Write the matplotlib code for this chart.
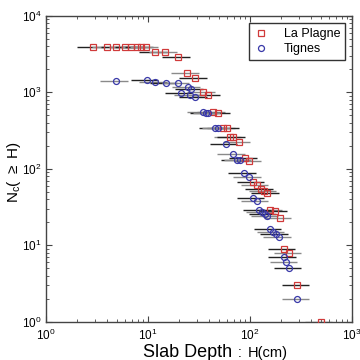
import matplotlib
matplotlib.use('Agg')
import matplotlib.pyplot as plt
import numpy as np

plt.rcParams['font.family'] = ['Liberation Sans', 'DejaVu Sans']
plt.rcParams['mathtext.default'] = 'regular'

# La Plagne: slab depth H (cm), cumulative count N_c(>=H)
plagne_h = [2.9, 4.0, 4.9, 5.9, 6.8, 7.8, 8.5, 9.6, 11.7, 14.7, 19.7, 24.1, 28.9,
            34.6, 38.7, 43.4, 48.6, 54.4, 59.3, 62.9, 68.0, 77.5, 89.3, 98.4,
            105.8, 116.3, 128.2, 138.0, 146.8, 157.0, 175.8, 194.6, 212.9,
            242.7, 291.0, 491.0]
plagne_n = [3950, 3950, 3950, 3950, 3950, 3950, 3950, 3950, 3400, 3400, 2900,
            1800, 1550, 1020, 930, 560, 540, 345, 345, 262, 262, 227, 138, 128,
            66.6, 61.8, 54.8, 51.6, 48.1, 29.1, 27.7, 22.7, 9, 8, 3, 1]

# Tignes
tignes_h = [4.86, 9.7, 11.7, 14.9, 19.5, 20.8, 24.7, 26.4, 25.5, 28.9, 34.4,
            36.6, 39.0, 44.8, 48.6, 57.8, 68.1, 73.8, 78.9, 87.3, 97.8, 106.3,
            116.3, 122.5, 129.6, 138.7, 145.1, 156.1, 166.2, 179.2, 193.3,
            215.4, 223.9, 242.8, 290.9]
tignes_n = [1427, 1435, 1385, 1343, 1343, 977, 1169, 1094, 928, 881, 561, 535,
            535, 341, 341, 210, 155, 131, 129, 87.4, 79.3, 41.4, 38.5, 28.8, 27,
            25.4, 24.1, 16.3, 15.1, 14.0, 13.0, 7, 6, 5, 2]

rel_err = 0.3

fig = plt.figure(figsize=(3.6, 3.6), dpi=100)
ax = fig.add_axes([0.128, 0.106, 0.85, 0.85])

for h, n, off in [(plagne_h, plagne_n, 0), (tignes_h, tignes_n, 1)]:
    h = np.array(h)
    eb = ax.errorbar(h, n, xerr=rel_err * h, fmt='none', ecolor='k',
                     elinewidth=1.0, capsize=0, zorder=2)
    cols = ['#222222' if (i + off) % 2 == 0 else '#8a8a8a' for i in range(len(h))]
    eb[2][0].set_colors(cols)

ax.plot(plagne_h, plagne_n, 's', ms=4.3, mfc='none', mec='#d03a3a', mew=0.9,
        label='La Plagne', zorder=3)
ax.plot(tignes_h, tignes_n, 'o', ms=4.3, mfc='none', mec='#3838a8', mew=0.9,
        label='Tignes', zorder=3)

ax.set_xscale('log')
ax.set_yscale('log')
ax.set_xlim(1, 1000)
ax.set_ylim(1, 10000)

for s in ax.spines.values():
    s.set_color('#444444')
    s.set_linewidth(1.0)
ax.tick_params(which='both', direction='in', top=True, right=True,
               colors='#444444', labelcolor='black', labelsize=8.5)
ax.tick_params(which='major', length=4)
ax.tick_params(which='minor', length=2)
ax.tick_params(axis='x', pad=4)

leg = ax.legend(loc='upper right', bbox_to_anchor=(0.977, 0.977),
                borderaxespad=0, fontsize=9, fancybox=False, frameon=True,
                edgecolor='black', handlelength=1.2, handletextpad=1.2,
                borderpad=0.4, labelspacing=0.25)
leg.get_frame().set_linewidth(1.0)

fig.text(0.397, 0.009, 'Slab Depth', fontsize=13, ha='left', va='baseline')
fig.text(0.667, 0.009, ':', fontsize=10, ha='center', va='baseline')
fig.text(0.689, 0.009, 'H(cm)', fontsize=10.5, ha='left', va='baseline')

fig.text(0.038, 0.522, r'N$_c$( $\geq$ H)', fontsize=11, rotation=90,
         ha='center', va='center')

plt.savefig('out.png', dpi=100)
